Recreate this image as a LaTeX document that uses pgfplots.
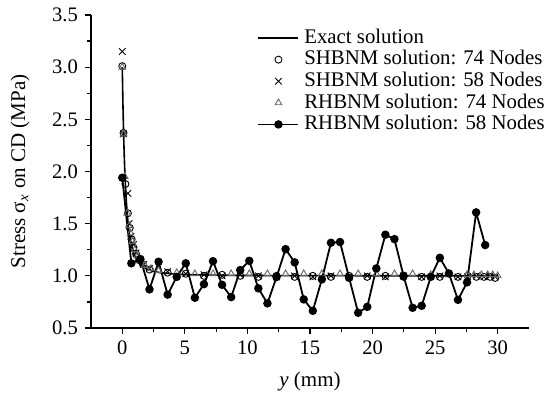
\documentclass[border=0pt]{standalone}
\usepackage{fontspec}
\setmainfont{Liberation Serif}
\usepackage{pgfplots}
\pgfplotsset{compat=1.18}
\begin{document}
\begin{tikzpicture}
\begin{axis}[
  scale only axis, width=219pt, height=156.5pt,
  xmin=-2.5, xmax=32.5, ymin=0.5, ymax=3.5,
  axis lines=left, axis line style={-, line width=0.7pt},
  xtick={0,5,...,30}, ytick={0.5,1.0,...,3.5},
  minor x tick num=1, minor y tick num=1,
  tick align=outside, tick style={line width=0.6pt, black},
  major tick length=3pt, minor tick length=2pt,
  /pgf/number format/assume math mode=true,
  yticklabel style={/pgf/number format/.cd, fixed, fixed zerofill, precision=1},
  ticklabel style={font=\fontsize{10.3}{12}\selectfont},
  xlabel={\textit{y} (mm)},
  ylabel={Stress σ\textsubscript{\textit{x}} on CD (MPa)},
  label style={font=\fontsize{10.5}{12.6}\selectfont},
  xlabel style={at={(axis description cs:0.5,-0.17)}, anchor=center},
  ylabel style={at={(axis description cs:-0.162,0.5)}, anchor=center},
  legend style={draw=none, fill=none, at={(rel axis cs:1.062,0.975)}, anchor=north east,
    font=\fontsize{10.4}{12.6}\selectfont,
    nodes={text height=7.6pt, text depth=2.4pt, inner ysep=0.4pt, inner xsep=2.5pt},
    cells={anchor=west}},
  legend image code/.code={\draw[mark repeat=2,mark phase=2,#1] plot coordinates {(0pt,0pt) (10pt,0pt) (20pt,0pt)};},
]
\addplot[black, line width=0.8pt, mark=none] coordinates {
(0,3.0) (0.05,2.657) (0.1,2.389) (0.15,2.177) (0.2,2.007) (0.3,1.756) (0.4,1.584) (0.5,1.463) (0.6,1.374) (0.8,1.258) (1.0,1.188) (1.25,1.134) (1.5,1.100) (2.0,1.062) (2.5,1.042) (3,1.031) (4,1.019) (5,1.012) (7,1.007) (10,1.003) (15,1.002) (20,1.001) (30,1.000)};
\addlegendentry{Exact solution}
\addplot[only marks, black, line width=0.45pt, mark=o, mark size=1.75pt] coordinates {
(0,3.01) (0.1,2.37) (0.25,1.88) (0.45,1.60) (0.6,1.46) (0.75,1.35) (0.9,1.27) (1.1,1.21) (1.35,1.15) (1.65,1.11) (2.175,1.06) (3.625,1.03) (5.075,1.02) (6.525,1.00) (7.975,1.01) (9.425,1.00) (10.875,0.99) (12.325,1.00) (13.775,0.99) (15.225,1.00) (16.675,0.99) (18.125,1.00) (19.575,0.99) (21.025,1.00) (22.475,0.99) (23.925,0.99) (25.375,0.99) (26.825,0.99) (27.6,1.00) (28.3,0.99) (28.9,0.99) (29.4,0.99) (29.8,0.98)};
\addlegendentry{SHBNM solution: 74 Nodes}
\addplot[only marks, black, line width=0.45pt, mark=x, mark size=2.3pt] coordinates {
(0,3.15) (0.1,2.36) (0.45,1.79) (0.55,1.50) (0.7,1.38) (0.9,1.30) (1.1,1.22) (1.4,1.16) (1.7,1.11) (2.175,1.07) (3.625,1.04) (5.075,1.02) (6.525,1.01) (7.975,1.00) (9.425,1.01) (10.875,1.00) (12.325,0.99) (13.775,1.00) (15.225,0.99) (16.675,1.00) (18.125,0.99) (19.575,1.00) (21.025,0.99) (22.475,1.00) (23.925,0.99) (25.375,1.00) (26.825,0.99) (27.6,0.99) (28.3,1.00) (28.9,0.99) (29.4,1.00) (29.8,0.99)};
\addlegendentry{SHBNM solution: 58 Nodes}
\addplot[only marks, black!60, line width=0.45pt, mark=triangle, mark size=1.9pt] coordinates {
(0,3.00) (0.1,2.36) (0.2,1.95) (0.4,1.60) (0.55,1.48) (0.65,1.41) (0.8,1.33) (1.0,1.25) (1.2,1.19) (1.45,1.15) (1.8,1.10) (2.3,1.07) (2.9,1.05) (4.35,1.03) (5.8,1.02) (7.25,1.02) (8.7,1.02) (10.15,1.02) (11.6,1.02) (13.05,1.02) (14.5,1.02) (15.95,1.02) (17.4,1.02) (18.85,1.02) (20.3,1.02) (21.75,1.02) (23.2,1.02) (24.65,1.01) (26.1,1.01) (27.55,1.01) (28.1,1.01) (28.7,1.01) (29.2,1.01) (29.6,1.01) (30.0,1.00)};
\addlegendentry{RHBNM solution: 74 Nodes}
\addplot[black, line width=0.9pt, mark=*, mark size=1.65pt] coordinates {
(0,1.94) (0.725,1.12) (1.45,1.16) (2.175,0.87) (2.9,1.135) (3.625,0.82) (4.35,0.99) (5.075,1.12) (5.8,0.79) (6.525,0.92) (7.25,1.14) (7.975,0.914) (8.7,0.796) (9.425,1.055) (10.15,1.144) (10.875,0.88) (11.6,0.736) (12.325,0.988) (13.05,1.256) (13.775,1.129) (14.5,0.774) (15.225,0.665) (15.95,0.966) (16.675,1.317) (17.4,1.324) (18.125,0.981) (18.85,0.646) (19.575,0.703) (20.3,1.071) (21.025,1.394) (21.75,1.352) (22.475,1.0) (23.2,0.694) (23.925,0.713) (24.65,0.99) (25.375,1.173) (26.1,1.023) (26.825,0.77) (27.55,0.937) (28.275,1.608) (29.0,1.295)};
\addlegendentry{RHBNM solution: 58 Nodes}
\end{axis}
\pgfresetboundingbox
\path[use as bounding box] (-45.5pt,-37pt) rectangle (230.5pt,164pt);
\end{tikzpicture}
\end{document}
